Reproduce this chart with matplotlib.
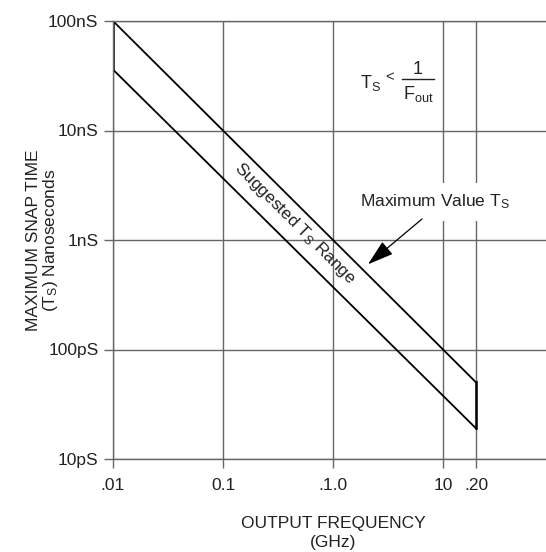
import matplotlib
matplotlib.use('Agg')
import matplotlib.pyplot as plt
from matplotlib.ticker import NullLocator

# band of suggested snap time (ns) vs output frequency (GHz)
freq_ghz = [0.01, 20]
ts_max_ns = [100, 0.05]
ts_min_ns = [36, 0.019]

x_ticks = [0.01, 0.1, 1, 10, 20]
x_labels = ['.01', '0.1', '.1.0', '10', '.20']
y_ticks = [0.01, 0.1, 1, 10, 100]
y_labels = ['10pS', '100pS', '1nS', '10nS', '100nS']

plt.rcParams['font.family'] = ['Liberation Sans', 'DejaVu Sans']
plt.rcParams['mathtext.fontset'] = 'custom'
plt.rcParams['mathtext.rm'] = 'Liberation Sans'
plt.rcParams['mathtext.it'] = 'Liberation Sans'
plt.rcParams['mathtext.default'] = 'rm'

grid_col = '#666666'
txt_col = '#222222'
fs = 12.5

fig = plt.figure(figsize=(5.46, 5.52), dpi=100)
ax = fig.add_axes([113 / 546, 93 / 552, 433 / 546, 438 / 552])

ax.set_xscale('log')
ax.set_yscale('log')
ax.set_xlim(0.01, 86.3)
ax.set_ylim(0.01, 100)

ax.set_xticks(x_ticks)
ax.set_xticklabels(x_labels)
ax.set_yticks(y_ticks)
ax.set_yticklabels(y_labels)
ax.xaxis.set_minor_locator(NullLocator())
ax.yaxis.set_minor_locator(NullLocator())
ax.tick_params(direction='out', length=6.5, width=1.0, color=grid_col,
               labelsize=fs, labelcolor=txt_col, pad=4)
ax.tick_params(axis='x', pad=7)

ax.grid(True, color=grid_col, lw=1.0)
ax.spines['right'].set_visible(False)
for side in ['left', 'bottom', 'top']:
    ax.spines[side].set_color(grid_col)
    ax.spines[side].set_linewidth(1.0)

# band outline
ax.plot(freq_ghz, ts_max_ns, color='black', lw=1.3)
ax.plot(freq_ghz, ts_min_ns, color='black', lw=1.3)
ax.plot([freq_ghz[0]] * 2, [ts_min_ns[0], ts_max_ns[0]], color='black', lw=1.8)
ax.plot([freq_ghz[-1]] * 2, [ts_min_ns[-1], ts_max_ns[-1]], color='black', lw=1.8)

ax.text(0.451, 1.43, 'Suggested T$_S$ Range', rotation=-45, rotation_mode='anchor',
        ha='center', va='center', fontsize=fs, color=txt_col)

# Ts < 1/Fout, built from pieces
fig.text(360 / 546, 1 - 83 / 552, 'T$_S$', ha='left', va='center',
         fontsize=fs + 0.5, color=txt_col)
fig.text(390 / 546, 1 - 77 / 552, '<', ha='center', va='center',
         fontsize=fs - 2, color=txt_col)
fig.text(418 / 546, 1 - 70 / 552, '1', ha='center', va='center',
         fontsize=fs + 0.5, color=txt_col)
fig.add_artist(plt.Line2D([402 / 546, 434 / 546], [1 - 79 / 552] * 2,
                          color=txt_col, lw=1.0))
fig.text(418 / 546, 1 - 94 / 552, 'F$_{out}$', ha='center', va='center',
         fontsize=fs + 0.5, color=txt_col)

ax.text(8.46, 2.22, 'Maximum Value T$_S$', ha='center', va='center',
        fontsize=fs, color=txt_col,
        bbox=dict(facecolor='white', edgecolor='none', pad=7))
ax.annotate('', xy=(2.08, 0.6), xytext=(6.44, 1.555),
            arrowprops=dict(arrowstyle='-|>,head_length=0.9,head_width=0.28',
                            mutation_scale=18, color='black', lw=0.9,
                            shrinkA=0, shrinkB=0))

fig.text(43 / 546, 1 - 240 / 552, 'MAXIMUM SNAP TIME\n(T$_S$) Nanoseconds',
         rotation=90, ha='center', va='center', multialignment='center',
         fontsize=fs, color=txt_col, linespacing=1.05)
fig.text(333 / 546, 1 - 533 / 552, 'OUTPUT FREQUENCY\n(GHz)',
         ha='center', va='center', multialignment='center',
         fontsize=fs, color=txt_col, linespacing=1.3)

fig.savefig('out.png', dpi=100)
